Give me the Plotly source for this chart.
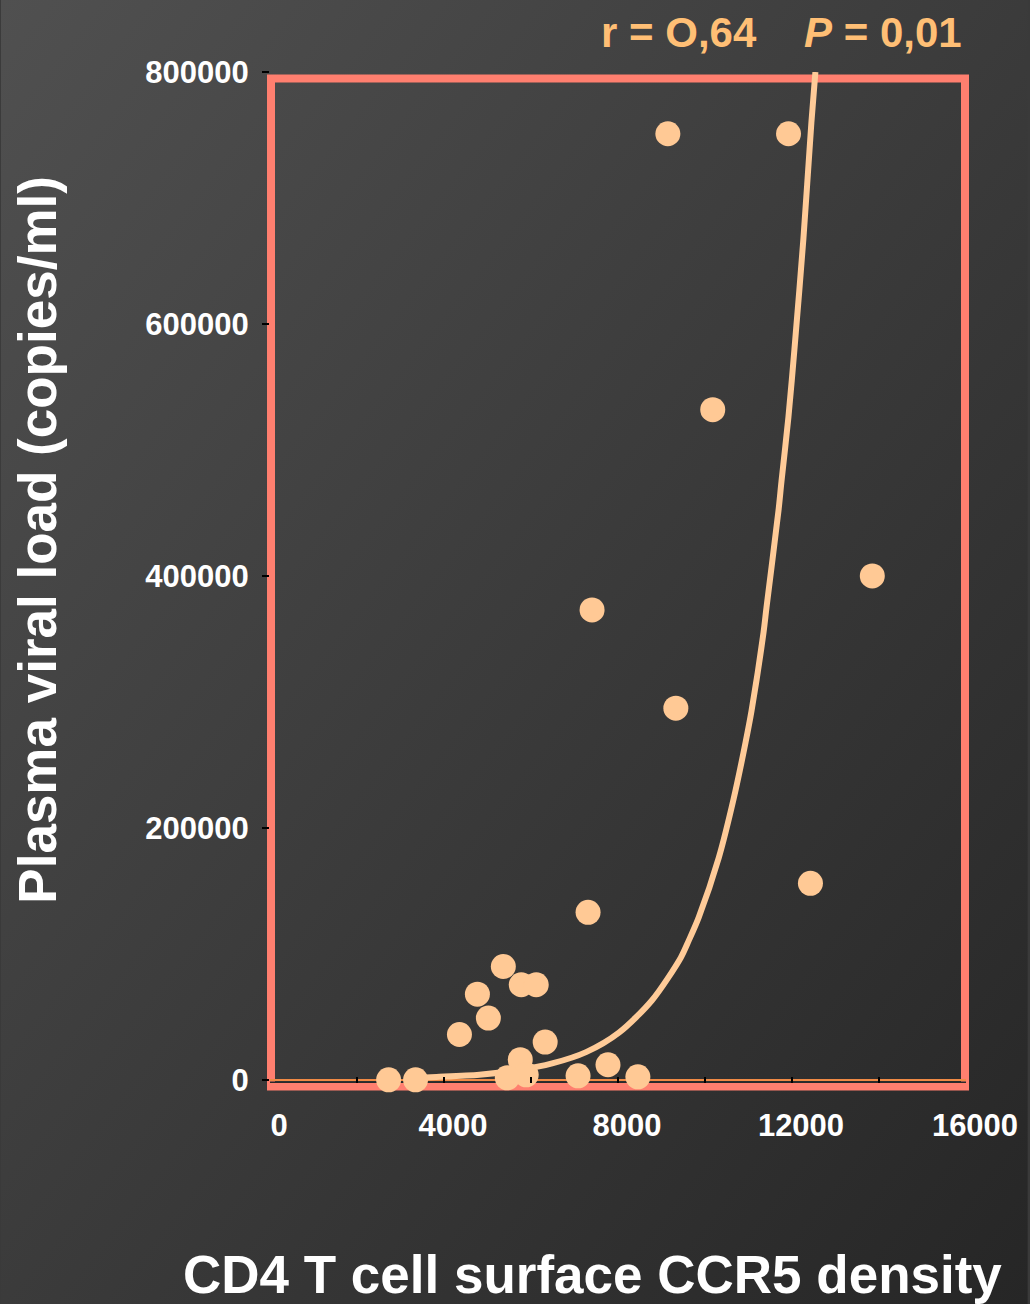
import base64
import plotly.graph_objects as go

# ---- data ----
ccr5_density = [9146, 11920, 10178, 13846, 7404, 9330, 12424, 7312, 5364, 4768,
                5776, 6120, 5020, 4355, 6326, 5753, 7770, 5890, 5455, 2727,
                3346, 7082, 8457]
viral_load = [751000, 751000, 532000, 400000, 373000, 295000, 156000, 133000, 90000, 68000,
              75500, 75500, 49000, 36000, 30000, 16000, 12000, 4000, 1600, 0,
              0, 3200, 2400]

fit_x = [3438, 3828, 4813, 5730, 6486, 7266, 8022, 8778, 9443, 9626, 9856, 10314,
         10658, 10933, 11070, 11345, 11414, 11690, 11758, 11918, 12056, 12263, 12446, 12538]
fit_y = [1700, 2300, 4100, 7800, 13000, 22000, 37500, 63000, 97000, 110500, 129000, 176000,
         223000, 268000, 293000, 355000, 375000, 452000, 475000, 526000, 580000, 668000, 760000, 800000]

x_ticks = [0, 2000, 4000, 6000, 8000, 10000, 12000, 14000, 16000]
x_tick_text = ["0", "", "4000", "", "8000", "", "12000", "", "16000"]
y_ticks = [0, 200000, 400000, 600000, 800000]
y_tick_text = ["0", "200000", "400000", "600000", "800000"]

x_title = "CD4 T cell surface CCR5 density"
y_title = "Plasma viral load (copies/ml)"
stat_r = "r = O,64"
stat_p = "<i>P</i> = 0,01"

W, H = 1030, 1304
FONT = "Liberation Sans"
PEACH = "#FFC995"
LINE = "#FFCB98"
FRAME = "#FF7F6F"
STAT = "#FFBF75"

svg = ('<svg xmlns="http://www.w3.org/2000/svg" width="1030" height="1304">'
       '<defs><linearGradient id="g" x1="0" y1="0" x2="1" y2="1">'
       '<stop offset="0" stop-color="#505050"/><stop offset="1" stop-color="#262626"/>'
       '</linearGradient></defs><rect width="1030" height="1304" fill="url(#g)"/></svg>')
bg_src = "data:image/svg+xml;base64," + base64.b64encode(svg.encode()).decode()

ml, mr, mt, mb = 270, 62, 72, 221
pw, ph = W - ml - mr, H - mt - mb

fig = go.Figure()
fig.add_trace(go.Scatter(x=fit_x, y=fit_y, mode="lines",
                         line=dict(color=LINE, width=6, shape="spline", smoothing=0.8),
                         cliponaxis=False, hoverinfo="skip"))
fig.add_trace(go.Scatter(x=ccr5_density, y=viral_load, mode="markers",
                         marker=dict(color=PEACH, size=25, line=dict(width=0)),
                         cliponaxis=False))

fig.update_layout(
    width=W, height=H,
    margin=dict(l=ml, r=mr, t=mt, b=mb, pad=0),
    paper_bgcolor="#3a3a3a",
    plot_bgcolor="rgba(0,0,0,0)",
    showlegend=False,
    font=dict(family=FONT, color="white"),
    images=[dict(source=bg_src, xref="paper", yref="paper",
                 x=-ml / pw, y=1 + mt / ph, sizex=W / pw, sizey=H / ph,
                 xanchor="left", yanchor="top", sizing="stretch", layer="below")],
    shapes=[dict(type="rect", xref="paper", yref="paper",
                 x0=1 / pw, x1=1 - 1 / pw, y0=-3.5 / ph, y1=1 - 6.5 / ph,
                 line=dict(color=FRAME, width=8), fillcolor="rgba(0,0,0,0)",
                 layer="below"),
            dict(type="line", xref="paper", yref="paper",
                 x0=0, x1=1, y0=0.8 / ph, y1=0.8 / ph,
                 line=dict(color="#2a2a2a", width=1.5), layer="below")],
)

fig.update_xaxes(range=[0, 16000], tickvals=x_ticks, ticktext=x_tick_text,
                 ticks="inside", ticklen=6, tickwidth=2, tickcolor="black",
                 showgrid=False, zeroline=False, showline=False,
                 tickfont=dict(family=FONT, size=31, color="white", weight="bold"),
                 ticklabelstandoff=21, ticklabelshift=9)
fig.update_yaxes(range=[-2500, 800000], tickvals=y_ticks, ticktext=y_tick_text,
                 ticks="outside", ticklen=7, tickwidth=2, tickcolor="black",
                 showgrid=False, zeroline=True, zerolinecolor="#F08A45", zerolinewidth=2,
                 showline=False,
                 tickfont=dict(family=FONT, size=31, color="white", weight="bold"),
                 ticklabelstandoff=7)

fig.add_annotation(text=x_title, xref="paper", yref="paper",
                   x=(593 - ml) / pw, y=-(1274 - (mt + ph)) / ph,
                   xanchor="center", yanchor="middle", showarrow=False,
                   font=dict(family=FONT, size=53, color="white", weight="bold"))
fig.add_annotation(text=y_title, xref="paper", yref="paper", textangle=-90,
                   x=(36 - ml) / pw, y=((mt + ph) - 540) / ph,
                   xanchor="center", yanchor="middle", showarrow=False,
                   font=dict(family=FONT, size=53, color="white", weight="bold"))
fig.add_annotation(text=stat_r, xref="paper", yref="paper",
                   x=(600 - ml) / pw, y=((mt + ph) - 33) / ph,
                   xanchor="left", yanchor="middle", showarrow=False,
                   font=dict(family=FONT, size=42, color=STAT, weight="bold"))
fig.add_annotation(text=stat_p, xref="paper", yref="paper",
                   x=(804 - ml) / pw, y=((mt + ph) - 33) / ph,
                   xanchor="left", yanchor="middle", showarrow=False,
                   font=dict(family=FONT, size=42, color=STAT, weight="bold"))

fig.write_html("out.html",
               config={"displayModeBar": False},
               post_script="document.body.style.margin='0';document.body.style.padding='0';"
                           "document.body.style.background='#2a2a2a';"
                           "document.documentElement.style.overflow='hidden';")
